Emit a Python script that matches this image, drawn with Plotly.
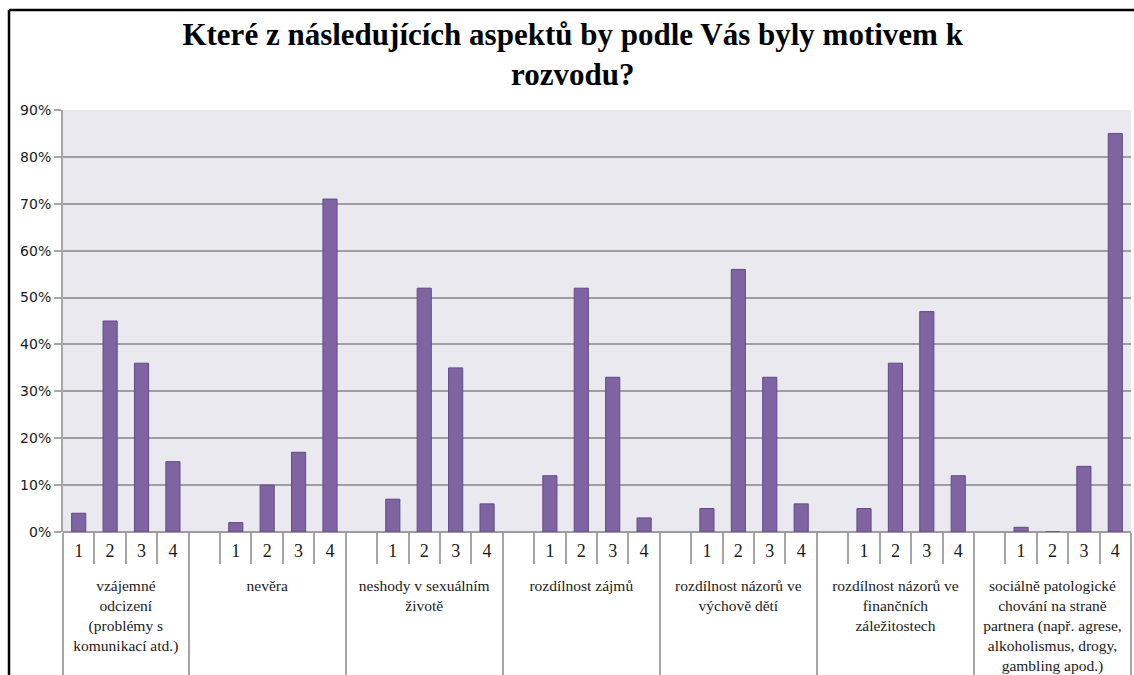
import plotly.graph_objects as go

title_text = "Které z následujících aspektů by podle Vás byly motivem k<br>rozvodu?"

groups = [
    "vzájemné<br>odcizení<br>(problémy s<br>komunikací atd.)",
    "nevěra",
    "neshody v sexuálním<br>životě",
    "rozdílnost zájmů",
    "rozdílnost názorů ve<br>výchově dětí",
    "rozdílnost názorů ve<br>finančních<br>záležitostech",
    "sociálně patologické<br>chování na straně<br>partnera (např. agrese,<br>alkoholismus, drogy,<br>gambling apod.)",
]
sub_labels = ["1", "2", "3", "4"]

v_odcizeni = [4, 45, 36, 15]
v_nevera = [2, 10, 17, 71]
v_sex = [7, 52, 35, 6]
v_zajmy = [12, 52, 33, 3]
v_vychova = [5, 56, 33, 6]
v_finance = [5, 36, 47, 12]
v_patolog = [1, 0, 14, 85]
values = [v_odcizeni, v_nevera, v_sex, v_zajmy, v_vychova, v_finance, v_patolog]

yticks = [0, 10, 20, 30, 40, 50, 60, 70, 80, 90]

ZW = "\u200b"  # invisible marker so the blank slot sorts first in later groups
SUB = "<span style='font-size:18px'>{}</span>"
xg, xs, yv = [], [], []
for gi, (g, vals) in enumerate(zip(groups, values)):
    glabel = "<br>" + g
    if gi > 0:
        xg.append(glabel); xs.append(" "); yv.append(None)
    for s, v in zip(sub_labels, vals):
        xg.append(glabel)
        xs.append(SUB.format(s + ZW if gi == 0 else s))
        yv.append(v / 100)

fig = go.Figure(go.Bar(
    x=[xg, xs], y=yv,
    marker=dict(color="#8064A2", line=dict(color="#5F4A87", width=1)),
    width=0.45,
))

L, R, T, B = 63, 3, 110, 143
W, H = 1134, 675
pw, ph = W - L - R, H - T - B

fig.update_layout(
    width=W, height=H,
    margin=dict(l=L, r=R, t=T, b=B, autoexpand=False),
    paper_bgcolor="white",
    plot_bgcolor="#EBE9F0",
    showlegend=False,
    font=dict(family="Liberation Serif", size=15.5, color="#1a1a1a"),
    title=dict(text="<b>" + title_text + "</b>", x=0.505, xanchor="center",
               yref="container", y=1 - 45 / H, yanchor="middle",
               font=dict(family="Liberation Serif", size=31, color="black")),
    xaxis=dict(
        type="multicategory",
        automargin=False,
        showline=False,
        tickson="boundaries",
        ticks="outside", ticklen=31, tickcolor="#A6A6A6", tickwidth=1.5,
        ticklabelstandoff=8,
        showdividers=True, dividercolor="#A6A6A6", dividerwidth=1.5,
        tickfont=dict(family="Liberation Serif", size=15.5, color="#1a1a1a"),
        showgrid=False,
    ),
    yaxis=dict(
        automargin=False,
        range=[0, 0.9],
        tickvals=[t / 100 for t in yticks],
        ticktext=[f"{t}%" for t in yticks],
        showgrid=True, gridcolor="#9E9E9E", gridwidth=1.5,
        zeroline=True, zerolinecolor="#9E9E9E", zerolinewidth=1.5,
        showline=True, linecolor="#A6A6A6", linewidth=2,
        ticks="outside", ticklen=7, tickcolor="#A6A6A6", tickwidth=1.5,
        tickfont=dict(family="DejaVu Sans", size=14, color="#1a1a1a"),
    ),
)

# black frame around chart (left/top)
x0 = (9 - L) / pw
x1 = (1134 - L) / pw
ytop = (H - B - 10) / ph
ybot = (H - B - 700) / ph
fig.add_shape(type="line", xref="paper", yref="paper", x0=x0, x1=x0, y0=ybot, y1=ytop,
              line=dict(color="black", width=2.5))
fig.add_shape(type="line", xref="paper", yref="paper", x0=x0, x1=x1, y0=ytop, y1=ytop,
              line=dict(color="black", width=2.5))

fig.write_html("out.html", config={"displayModeBar": False},
               post_script="document.body.style.margin='0';")
